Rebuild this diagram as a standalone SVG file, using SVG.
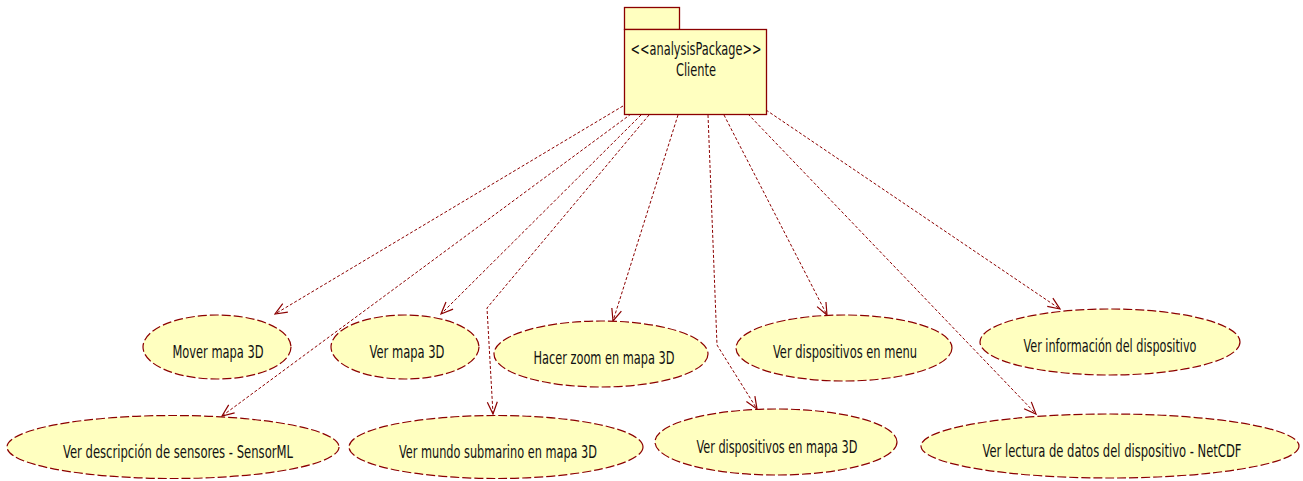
<svg xmlns="http://www.w3.org/2000/svg" width="1303" height="481" viewBox="0 0 1303 481">
<style>
.uc{fill:#FFFFC0;stroke:#8B0000;stroke-width:1.2;stroke-dasharray:9 3}
.pk{fill:#FFFFC0;stroke:#8B0000;stroke-width:1.3}
.c{fill:none;stroke:#8B0000;stroke-width:1;stroke-dasharray:3 2}
text{font-family:"Liberation Sans Narrow","DejaVu Sans Condensed","Liberation Sans",sans-serif;font-size:17px;fill:#111;text-anchor:middle}
</style>
<defs>
<marker id="a" markerWidth="14" markerHeight="12" refX="13" refY="6" orient="auto" markerUnits="userSpaceOnUse">
<path d="M1,1 L13,6 L1,11" fill="none" stroke="#8B0000" stroke-width="1.2"/>
</marker>
</defs>
<rect width="1303" height="481" fill="#fff"/>
<g id="connectors">
<path class="c" d="M623,106 L275,314" marker-end="url(#a)"/>
<path class="c" d="M631,114 L222,416" marker-end="url(#a)"/>
<path class="c" d="M641,115 L441,314" marker-end="url(#a)"/>
<path class="c" d="M649,115 L487,308 L493,414" marker-end="url(#a)"/>
<path class="c" d="M678,115 L613,321" marker-end="url(#a)"/>
<path class="c" d="M708,115 L717,345 L757,409" marker-end="url(#a)"/>
<path class="c" d="M724,115 L827,315" marker-end="url(#a)"/>
<path class="c" d="M748,114 L1036,414" marker-end="url(#a)"/>
<path class="c" d="M766,110 L1060,309" marker-end="url(#a)"/>
</g>
<g id="pkg-cliente">
<rect class="pk" x="624.5" y="7.5" width="55" height="22"/>
<rect class="pk" x="624.5" y="29.5" width="142" height="85"/>
<text x="696" y="55" textLength="131" lengthAdjust="spacingAndGlyphs">&lt;&lt;analysisPackage&gt;&gt;</text>
<text x="696" y="76" textLength="40" lengthAdjust="spacingAndGlyphs">Cliente</text>
</g>
<g id="uc-mover">
<ellipse class="uc" cx="217" cy="347" rx="74" ry="32"/>
<text x="218" y="358" textLength="91" lengthAdjust="spacingAndGlyphs">Mover mapa 3D</text>
</g>
<g id="uc-vermapa">
<ellipse class="uc" cx="405" cy="347" rx="74" ry="32"/>
<text x="407" y="358" textLength="75" lengthAdjust="spacingAndGlyphs">Ver mapa 3D</text>
</g>
<g id="uc-zoom">
<ellipse class="uc" cx="601" cy="354" rx="107" ry="33"/>
<text x="604" y="364" textLength="141" lengthAdjust="spacingAndGlyphs">Hacer zoom en mapa 3D</text>
</g>
<g id="uc-menu">
<ellipse class="uc" cx="844" cy="348" rx="108" ry="33"/>
<text x="845" y="358" textLength="144" lengthAdjust="spacingAndGlyphs">Ver dispositivos en menu</text>
</g>
<g id="uc-info">
<ellipse class="uc" cx="1110" cy="342" rx="130" ry="33"/>
<text x="1110" y="352" textLength="173" lengthAdjust="spacingAndGlyphs">Ver información del dispositivo</text>
</g>
<g id="uc-sensorml">
<ellipse class="uc" cx="173" cy="447" rx="166" ry="31.5"/>
<text x="178" y="458" textLength="230" lengthAdjust="spacingAndGlyphs">Ver descripción de sensores - SensorML</text>
</g>
<g id="uc-submarino">
<ellipse class="uc" cx="496" cy="447" rx="147" ry="31.5"/>
<text x="498" y="458" textLength="198" lengthAdjust="spacingAndGlyphs">Ver mundo submarino en mapa 3D</text>
</g>
<g id="uc-dispmapa">
<ellipse class="uc" cx="776" cy="442" rx="121" ry="33"/>
<text x="777" y="453" textLength="161" lengthAdjust="spacingAndGlyphs">Ver dispositivos en mapa 3D</text>
</g>
<g id="uc-netcdf">
<ellipse class="uc" cx="1110" cy="446" rx="189" ry="32"/>
<text x="1112" y="457" textLength="259" lengthAdjust="spacingAndGlyphs">Ver lectura de datos del dispositivo - NetCDF</text>
</g>
</svg>
